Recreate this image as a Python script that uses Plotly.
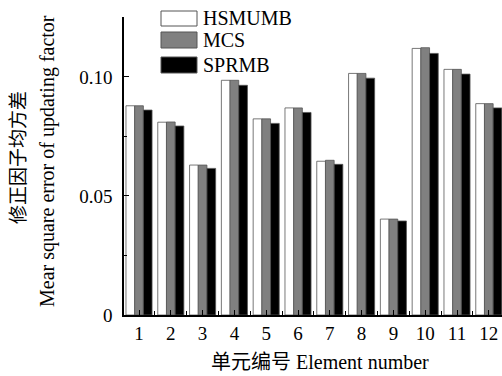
import plotly.graph_objects as go

elements = [1, 2, 3, 4, 5, 6, 7, 8, 9, 10, 11, 12]
x_ticklabels = ["1", "2", "3", "4", "5", "6", "7", "8", "9", "10", "11", "12"]
hsmumb = [0.0879, 0.0810, 0.0630, 0.0986, 0.0824, 0.0870, 0.0646, 0.1015, 0.0403, 0.1120, 0.1032, 0.0888]
mcs = [0.0879, 0.0811, 0.0630, 0.0986, 0.0824, 0.0870, 0.0650, 0.1015, 0.0403, 0.1123, 0.1032, 0.0888]
sprmb = [0.0861, 0.0794, 0.0616, 0.0965, 0.0805, 0.0851, 0.0633, 0.0995, 0.0395, 0.1099, 0.1012, 0.0870]
y_tickvals = [0, 0.05, 0.10]
y_ticklabels = ["0", "0.05", "0.10"]
series_names = ["HSMUMB", "MCS", "SPRMB"]
series_colors = ["#ffffff", "#808080", "#000000"]

FONT = "Liberation Serif, Times New Roman, Noto Sans CJK SC, serif"
W, H = 502, 376
L, R, T, B = 124, 0, 17, 61
PW = W - L - R
PH = H - T - B


def px(x):
    return (x - L) / PW


def py(y):
    return (H - B - y) / PH


fig = go.Figure()
for name, vals, col in zip(series_names, [hsmumb, mcs, sprmb], series_colors):
    fig.add_trace(go.Bar(
        x=elements, y=vals, name=name,
        marker=dict(color=col, line=dict(color="#555555", width=0.8)),
        showlegend=False,
    ))

shapes = []
annotations = []
legend_rows = [(11, 26), (32, 48), (57, 73)]
for (y0, y1), name, col in zip(legend_rows, series_names, series_colors):
    shapes.append(dict(type="rect", xref="paper", yref="paper",
                       x0=px(161), x1=px(197), y0=py(y1), y1=py(y0),
                       fillcolor=col, line=dict(color="#555555", width=1)))
    annotations.append(dict(xref="paper", yref="paper", x=px(201), y=py((y0 + y1) / 2),
                            text=name, showarrow=False, xanchor="left", yanchor="middle",
                            font=dict(family=FONT, size=20, color="black")))

annotations.append(dict(xref="paper", yref="paper", x=px(18), y=py(158),
                        text="修正因子均方差", showarrow=False, textangle=-90,
                        xanchor="center", yanchor="middle",
                        font=dict(family=FONT, size=19, color="black")))
annotations.append(dict(xref="paper", yref="paper", x=px(47), y=py(161),
                        text="Mear square error of updating factor", showarrow=False, textangle=-90,
                        xanchor="center", yanchor="middle",
                        font=dict(family=FONT, size=20, color="black")))
annotations.append(dict(xref="paper", yref="paper", x=px(320), y=py(362),
                        text="单元编号 Element number", showarrow=False,
                        xanchor="center", yanchor="middle",
                        font=dict(family=FONT, size=20, color="black")))

fig.update_layout(
    width=W, height=H,
    margin=dict(l=L, r=R, t=T, b=B, pad=0),
    paper_bgcolor="white", plot_bgcolor="white",
    barmode="group", bargap=0.18, bargroupgap=0,
    shapes=shapes, annotations=annotations,
    font=dict(family=FONT, size=19, color="black"),
    xaxis=dict(
        range=[0.528, 12.415], tickvals=elements, ticktext=x_ticklabels,
        showline=True, linecolor="black", linewidth=1.5,
        ticks="inside", ticklen=5, tickcolor="black", tickwidth=1,
        minor=dict(tickvals=[e + 0.5 for e in elements[:-1]] + [0.5], ticks="inside", ticklen=4, tickcolor="black"),
        showgrid=False, zeroline=False,
        tickfont=dict(family=FONT, size=19, color="black"),
    ),
    yaxis=dict(
        range=[0, 0.1252], tickvals=y_tickvals, ticktext=y_ticklabels,
        showline=True, linecolor="black", linewidth=1.5,
        ticks="inside", ticklen=5, tickcolor="black", tickwidth=1,
        minor=dict(dtick=0.025, ticks="inside", ticklen=3, tickcolor="black"),
        showgrid=False, zeroline=False, ticklabelstandoff=6,
        tickfont=dict(family=FONT, size=19, color="black"),
    ),
)

fig.write_html("out.html", config={"displayModeBar": False},
               post_script="document.body.style.margin='0';document.body.style.overflow='hidden';")
